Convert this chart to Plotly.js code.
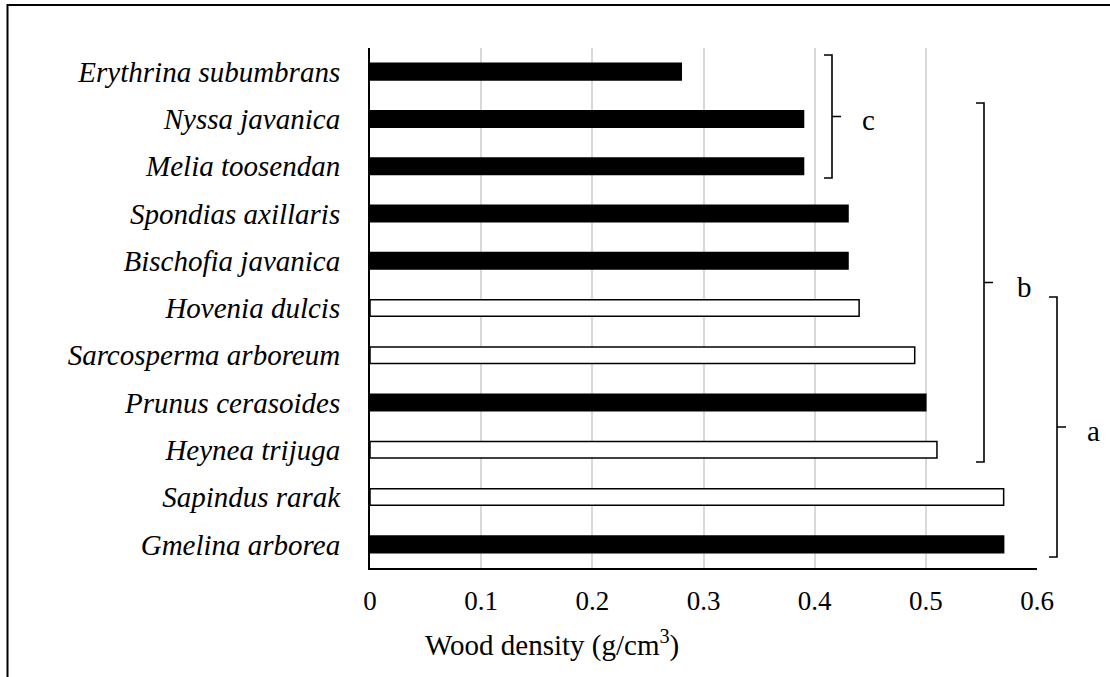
<!DOCTYPE html>
<html>
<head>
<meta charset="utf-8">
<script src="https://cdn.plot.ly/plotly-3.0.1.min.js"></script>
<style>html,body{margin:0;padding:0;background:#fff;}#chart{width:1110px;height:677px;}</style>
</head>
<body>
<div id="chart"></div>
<script>
// Data (top to bottom as shown)
const species = ["Erythrina subumbrans","Nyssa javanica","Melia toosendan","Spondias axillaris","Bischofia javanica","Hovenia dulcis","Sarcosperma arboreum","Prunus cerasoides","Heynea trijuga","Sapindus rarak","Gmelina arborea"];
const density = [0.28,0.39,0.39,0.43,0.43,0.44,0.49,0.50,0.51,0.57,0.57];
const filled  = [true,true,true,true,true,false,false,true,false,false,true];
const xTicks = [0,0.1,0.2,0.3,0.4,0.5,0.6];
const xTickLabels = ["0","0.1","0.2","0.3","0.4","0.5","0.6"];
const groupLabels = ["c","b","a"];
const xTitle = "Wood density (g/cm<sup>3</sup>)";

const W = 1110, H = 677;
const L = 370, R = 73, T = 48, B = 109;
const pw = W - L - R, ph = H - T - B;
const px = p => (p - L) / pw;
const py = p => (H - B - p) / ph;
const FONT = "Liberation Serif, Times New Roman, serif";

const trace = {
  type: "bar", orientation: "h",
  y: species, x: density,
  width: 0.35,
  marker: {
    color: filled.map(f => f ? "#000000" : "#ffffff"),
    line: {color: "#000000", width: 1.5}
  },
  hoverinfo: "x+y"
};

function bracket(xv, y0, y1, hook, tip) {
  const ym = (y0 + y1) / 2;
  return {
    type: "path", xref: "paper", yref: "paper",
    path: `M ${px(xv-hook)} ${py(y0)} L ${px(xv)} ${py(y0)} L ${px(xv)} ${py(ym)} L ${px(xv+tip)} ${py(ym)} M ${px(xv)} ${py(ym)} L ${px(xv)} ${py(y1)} L ${px(xv-hook)} ${py(y1)}`,
    line: {color: "#000", width: 1.6}
  };
}
const brackets = [
  {x: 832, y0: 55, y1: 178, lx: 868},
  {x: 984, y0: 103, y1: 462, lx: 1024},
  {x: 1057, y0: 297, y1: 557, lx: 1093}
];

const shapes = brackets.map(b => bracket(b.x, b.y0, b.y1, 8, 9));
shapes.push({type:"path", xref:"paper", yref:"paper",
  path:`M ${px(7.5)} ${py(680)} L ${px(7.5)} ${py(5)} L ${px(1112)} ${py(5)}`,
  line:{color:"#000", width:2}});

const annotations = brackets.map((b, i) => ({
  xref:"paper", yref:"paper", x: px(b.lx), y: py((b.y0+b.y1)/2 + 4),
  text: groupLabels[i], showarrow:false, xanchor:"center", yanchor:"middle",
  font:{family:FONT, size:29, color:"#000"}
}));
annotations.push({
  xref:"paper", yref:"paper", x: px(552), y: py(643),
  text: xTitle, showarrow:false, xanchor:"center", yanchor:"middle",
  font:{family:FONT, size:29, color:"#000"}
});

const layout = {
  width: W, height: H,
  margin: {l: L, r: R, t: T, b: B, pad: 0},
  paper_bgcolor: "#fff", plot_bgcolor: "#fff",
  showlegend: false,
  font: {family: FONT, color: "#000"},
  xaxis: {
    range: [0, 0.6], tickvals: xTicks, ticktext: xTickLabels,
    showgrid: true, gridcolor: "#d9d9d9", gridwidth: 2,
    zeroline: false, showline: true, linecolor: "#000", linewidth: 1.5,
    ticks: "", ticklabelstandoff: 8,
    tickfont: {family: FONT, size: 27, color: "#000"}
  },
  yaxis: {
    type: "category", autorange: "reversed",
    categoryorder: "array", categoryarray: species,
    showgrid: false, zeroline: false,
    showline: true, linecolor: "#000", linewidth: 2,
    ticks: "", ticklabelstandoff: 22,
    tickfont: {family: FONT, size: 29, color: "#000", style: "italic"}
  },
  shapes: shapes,
  annotations: annotations
};

Plotly.newPlot("chart", [trace], layout, {displayModeBar: false, staticPlot: true});
</script>
</body>
</html>
